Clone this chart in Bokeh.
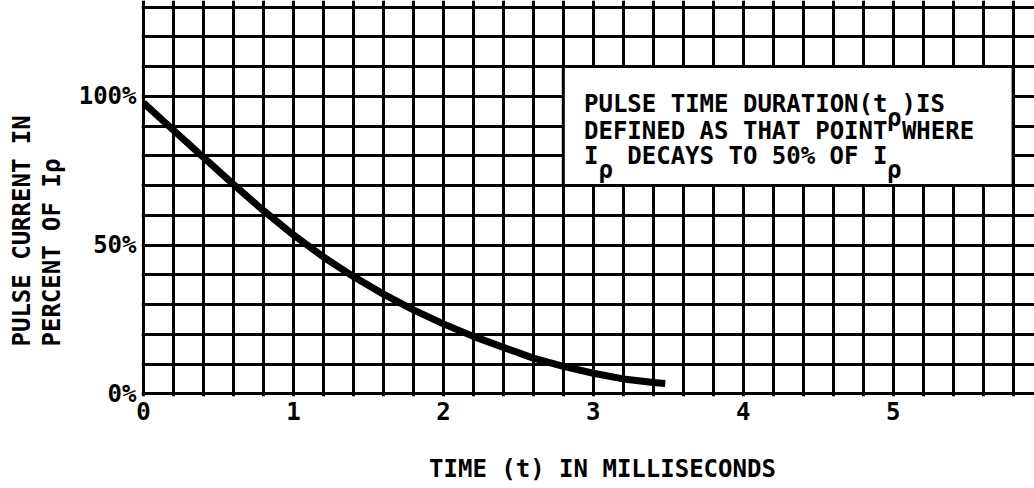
import numpy as np
from bokeh.plotting import figure
from bokeh.models import FixedTicker, Label, Range1d, Title
from bokeh.embed import file_html
from bokeh.resources import INLINE

# ---- data ----
time_ms = [0.0, 0.2, 0.4, 0.6, 0.8, 1.0, 1.2, 1.4, 1.6, 1.8, 2.0, 2.2,
           2.4, 2.6, 2.8, 3.0, 3.2, 3.4, 3.48]
current_pct = [97.8, 88.6, 79.5, 70.4, 61.6, 53.4, 46.0, 39.4, 33.5, 28.2,
               23.5, 19.3, 15.6, 12.0, 9.2, 6.9, 5.0, 3.8, 3.5]

x_ticks = [0, 1, 2, 3, 4, 5]
x_tick_labels = ["0", "1", "2", "3", "4", "5"]
y_ticks = [0, 50, 100]
y_tick_labels = ["0%", "50%", "100%"]

grid_x = [round(0.2 * i, 1) for i in range(30)]      # 0 .. 5.8 ms
grid_y = [10 * i for i in range(14)]                 # 0 .. 130 %

note_box = dict(left=2.8, right=5.8, bottom=70, top=110)
note_line1 = ["PULSE TIME DURATION(t", "ρ", ")IS"]
note_line2 = "DEFINED AS THAT POINT WHERE"
note_line3 = ["I", "ρ", "DECAYS TO 50% OF I", "ρ"]
y_title = ["PULSE CURRENT IN", "PERCENT OF Iρ"]
x_title = "TIME (t) IN MILLISECONDS"

# ---- layout ----
FONT = "DejaVu Sans Mono"
FS = 24
ADV = 0.602 * FS                 # monospace advance, px
XS = 150.1                       # px per ms
YS = 2.975                       # px per %
W, H = 1034, 488
BL, BB = 140, 92
X0_PX, Y0_PX = 142, 393.3        # page position of (0 ms, 0 %)
X_START = -(X0_PX - BL) / XS
X_END = X_START + (W - BL) / XS
Y_START = -((H - BB) - Y0_PX) / YS
Y_END = Y_START + (H - BB) / YS

def dx(px):
    return px / XS

def dy(px):
    return px / YS

p = figure(width=W, height=H, x_range=Range1d(X_START, X_END),
           y_range=Range1d(Y_START, Y_END), output_backend="svg",
           toolbar_location=None, title=None,
           min_border_left=BL, min_border_right=0, min_border_top=0,
           min_border_bottom=BB)
p.outline_line_color = None
p.background_fill_color = "white"
p.border_fill_color = "white"

for g, ticks in ((p.xgrid, grid_x), (p.ygrid, grid_y)):
    g.ticker = FixedTicker(ticks=ticks)
    g.grid_line_color = "black"
    g.grid_line_width = 3
    g.grid_line_alpha = 1.0

for ax in (p.xaxis, p.yaxis):
    ax.axis_line_color = None
    ax.major_tick_line_color = None
    ax.minor_tick_line_color = None
    ax.major_tick_out = 0
    ax.major_tick_in = 0
    ax.major_label_text_font = FONT
    ax.major_label_text_font_size = f"{FS}px"
    ax.major_label_text_font_style = "bold"
    ax.major_label_text_color = "black"

p.xaxis.ticker = FixedTicker(ticks=x_ticks)
p.xaxis.major_label_overrides = {t: s for t, s in zip(x_ticks, x_tick_labels)}
p.xaxis.major_label_standoff = 5
p.yaxis.ticker = FixedTicker(ticks=y_ticks)
p.yaxis.major_label_overrides = {t: s for t, s in zip(y_ticks, y_tick_labels)}
p.yaxis.major_label_standoff = 5

# x title: axis label, nudged right by one character cell
p.xaxis.axis_label = "\u00a0\u00a0" + x_title
p.xaxis.axis_label_standoff = 32
p.xaxis.axis_label_text_font = FONT
p.xaxis.axis_label_text_font_size = f"{FS}px"
p.xaxis.axis_label_text_font_style = "bold"
p.xaxis.axis_label_text_color = "black"

# note box (covers the grid inside)
p.quad(left=[note_box["left"]], right=[note_box["right"]],
       bottom=[note_box["bottom"]], top=[note_box["top"]],
       fill_color="white", line_color="black", line_width=3)

# curve
p.line(time_ms, current_pct, line_width=7, line_color="black",
       line_join="round", line_cap="butt")

def lab(x, y, text, **kw):
    opts = dict(text_font=FONT, text_font_size=f"{FS}px",
                text_font_style="bold", text_color="black",
                text_baseline="alphabetic", text_align="left")
    opts.update(kw)
    p.add_layout(Label(x=x, y=y, text=text, **opts))

# note text
NX = dx(583 - X0_PX)
B1, B2, B3 = dy(Y0_PX - 103.3), dy(Y0_PX - 130), dy(Y0_PX - 155)
SUB = 14   # subscript drop, px
lab(NX, B1, note_line1[0])
lab(NX + dx(21 * ADV), B1 - dy(SUB), note_line1[1])
lab(NX + dx(22 * ADV), B1, note_line1[2])
lab(NX, B2, note_line2)
lab(NX, B3, note_line3[0])
lab(NX + dx(1 * ADV), B3 - dy(SUB), note_line3[1])
lab(NX + dx(3 * ADV), B3, note_line3[2])
lab(NX + dx(21 * ADV), B3 - dy(SUB), note_line3[3])

# y title as a two-line side-panel title
p.add_layout(Title(text="\n".join(y_title), text_font=FONT,
                   text_font_size=f"{FS}px", text_font_style="bold",
                   text_color="black", text_line_height=1.1,
                   align="left", offset=50,
                   vertical_align="top", standoff=14), "left")

open("out.html", "w").write(file_html(p, INLINE))
